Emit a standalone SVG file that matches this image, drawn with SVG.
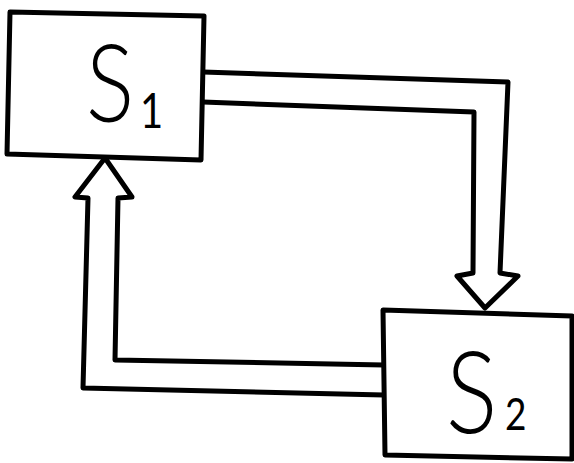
<svg xmlns="http://www.w3.org/2000/svg" width="574" height="463" viewBox="0 0 574 463">
<style>
.ln{fill:none;stroke:#000;stroke-width:5;stroke-linejoin:round;stroke-linecap:round}
.bx{fill:#fff;stroke:#000;stroke-width:5;stroke-linejoin:round}
.lb{font-family:Lato,"Liberation Sans",Arial,sans-serif;font-weight:300;fill:#000}
.sb{font-weight:400}
</style>
<rect width="574" height="463" fill="#fff"/>
<g id="connectors">
<path class="ln" d="M203,72 L508,82 L500,273 L518,276 L485,308 L457,276 L473,273 L474,112 L203,102"/>
<path class="ln" d="M384,365 L115,360 L118,198 L132,197 L105,158 L75,197 L88,198 L83,388 L384,395"/>
</g>
<g id="S1">
<path class="bx" d="M10,12 L204,16 L201,160 L7,154 Z"/>
<text class="lb" transform="translate(86,122) scale(1,1.2)" x="0" y="0"><tspan font-size="90">S</tspan><tspan class="sb" x="54" y="5" font-size="40">1</tspan></text>
</g>
<g id="S2">
<path class="bx" d="M383,310 L572,316 L572,459 L385,455 Z"/>
<text class="lb" transform="translate(446,433) scale(1,1.2)" x="0" y="0"><tspan font-size="96">S</tspan><tspan class="sb" x="59" y="-2.5" font-size="37">2</tspan></text>
</g>
</svg>
